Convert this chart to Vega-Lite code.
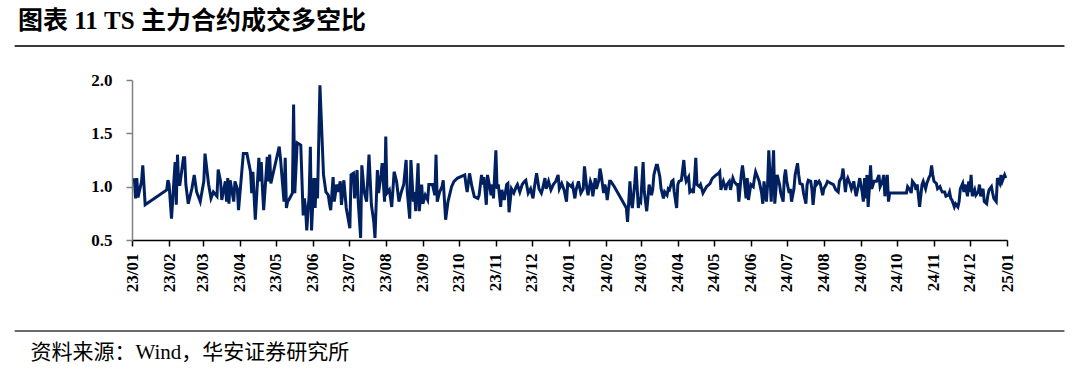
{
"$schema":"https://vega.github.io/schema/vega-lite/v6.json",
"width":875,"height":160,
"autosize":{"type":"none"},
"padding":{"left":132,"top":80,"right":73,"bottom":136},
"background":"white",
"config":{"view":{"stroke":null},"font":"Liberation Serif"},
"title":{"text":"图表 11 TS 主力合约成交多空比","anchor":"start","frame":"group","dx":-114,"dy":21,"offset":12,"baseline":"alphabetic","font":"Liberation Serif, Noto Sans CJK SC","fontSize":25,"fontWeight":"bold","color":"#000000"},
"datasets":{"ratio":[
{"d":"2023-01-03","v":1.08},{"d":"2023-01-04","v":0.89},{"d":"2023-01-05","v":1.08},{"d":"2023-01-06","v":0.9},{"d":"2023-01-09","v":1.05},{"d":"2023-01-10","v":1.2},{"d":"2023-01-12","v":0.83},{"d":"2023-01-30","v":0.97},{"d":"2023-01-31","v":1.06},
{"d":"2023-02-01","v":1.02},{"d":"2023-02-03","v":0.7},{"d":"2023-02-06","v":1.23},{"d":"2023-02-07","v":0.83},{"d":"2023-02-08","v":1.3},{"d":"2023-02-09","v":1.02},{"d":"2023-02-10","v":1.02},{"d":"2023-02-13","v":1.27},{"d":"2023-02-14","v":1.27},{"d":"2023-02-15","v":1.02},{"d":"2023-02-17","v":0.84},{"d":"2023-02-20","v":0.98},{"d":"2023-02-22","v":1.11},{"d":"2023-02-24","v":0.95},{"d":"2023-02-27","v":0.86},
{"d":"2023-03-02","v":1.05},{"d":"2023-03-03","v":1.31},{"d":"2023-03-06","v":1.02},{"d":"2023-03-08","v":0.89},{"d":"2023-03-10","v":0.95},{"d":"2023-03-13","v":0.91},{"d":"2023-03-14","v":1.16},{"d":"2023-03-16","v":1.05},{"d":"2023-03-17","v":0.875},{"d":"2023-03-20","v":1.05},{"d":"2023-03-21","v":0.86},{"d":"2023-03-22","v":1.08},{"d":"2023-03-23","v":0.84},{"d":"2023-03-24","v":1.06},{"d":"2023-03-27","v":0.86},{"d":"2023-03-28","v":1.05},{"d":"2023-03-30","v":0.98},{"d":"2023-03-31","v":0.78},
{"d":"2023-04-04","v":1.31},{"d":"2023-04-07","v":1.31},{"d":"2023-04-10","v":1.14},{"d":"2023-04-11","v":0.94},{"d":"2023-04-12","v":1.14},{"d":"2023-04-14","v":0.69},{"d":"2023-04-17","v":1.27},{"d":"2023-04-18","v":1.05},{"d":"2023-04-19","v":1.23},{"d":"2023-04-20","v":0.98},{"d":"2023-04-21","v":0.78},{"d":"2023-04-24","v":1.28},{"d":"2023-04-25","v":1.05},{"d":"2023-04-26","v":1.3},{"d":"2023-04-27","v":1.03},
{"d":"2023-05-04","v":1.375},{"d":"2023-05-05","v":1.27},{"d":"2023-05-08","v":0.86},{"d":"2023-05-09","v":1.27},{"d":"2023-05-10","v":0.8},{"d":"2023-05-11","v":0.86},{"d":"2023-05-12","v":0.875},{"d":"2023-05-15","v":0.94},{"d":"2023-05-16","v":1.77},{"d":"2023-05-17","v":0.94},{"d":"2023-05-18","v":1.17},{"d":"2023-05-19","v":1.41},{"d":"2023-05-22","v":1.39},{"d":"2023-05-24","v":0.73},{"d":"2023-05-25","v":0.89},{"d":"2023-05-26","v":0.8},{"d":"2023-05-27","v":0.59},{"d":"2023-05-29","v":0.92},{"d":"2023-05-30","v":1.375},{"d":"2023-05-31","v":0.59},
{"d":"2023-06-02","v":1.08},{"d":"2023-06-03","v":0.8},{"d":"2023-06-04","v":1.08},{"d":"2023-06-05","v":0.89},{"d":"2023-06-07","v":1.95},{"d":"2023-06-09","v":1.39},{"d":"2023-06-10","v":1.11},{"d":"2023-06-12","v":0.95},{"d":"2023-06-14","v":0.92},{"d":"2023-06-15","v":0.84},{"d":"2023-06-16","v":0.78},{"d":"2023-06-18","v":1.09},{"d":"2023-06-19","v":0.86},{"d":"2023-06-21","v":1.02},{"d":"2023-06-22","v":0.95},{"d":"2023-06-24","v":1.05},{"d":"2023-06-25","v":0.83},{"d":"2023-06-27","v":1.06},{"d":"2023-06-29","v":0.8},
{"d":"2023-07-02","v":0.61},{"d":"2023-07-03","v":1.11},{"d":"2023-07-05","v":1.125},{"d":"2023-07-06","v":0.89},{"d":"2023-07-08","v":1.156},{"d":"2023-07-09","v":0.86},{"d":"2023-07-11","v":0.52},{"d":"2023-07-12","v":1.2},{"d":"2023-07-14","v":0.95},{"d":"2023-07-16","v":0.86},{"d":"2023-07-18","v":1.3},{"d":"2023-07-20","v":0.83},{"d":"2023-07-22","v":0.67},{"d":"2023-07-23","v":0.52},{"d":"2023-07-25","v":1.156},{"d":"2023-07-26","v":0.94},{"d":"2023-07-28","v":1.11},{"d":"2023-07-29","v":1.22},{"d":"2023-07-31","v":0.86},
{"d":"2023-08-01","v":1.47},{"d":"2023-08-02","v":0.94},{"d":"2023-08-04","v":0.97},{"d":"2023-08-06","v":0.81},{"d":"2023-08-08","v":1.14},{"d":"2023-08-10","v":1.05},{"d":"2023-08-12","v":0.86},{"d":"2023-08-14","v":0.95},{"d":"2023-08-16","v":1.02},{"d":"2023-08-18","v":1.25},{"d":"2023-08-19","v":0.95},{"d":"2023-08-21","v":0.7},{"d":"2023-08-22","v":1.25},{"d":"2023-08-24","v":0.86},{"d":"2023-08-25","v":0.95},{"d":"2023-08-26","v":0.77},{"d":"2023-08-28","v":1.22},{"d":"2023-08-29","v":0.77},{"d":"2023-08-31","v":1.02},
{"d":"2023-09-01","v":0.84},{"d":"2023-09-03","v":0.92},{"d":"2023-09-05","v":0.875},{"d":"2023-09-06","v":1.02},{"d":"2023-09-09","v":1.02},{"d":"2023-09-11","v":0.92},{"d":"2023-09-12","v":1.3},{"d":"2023-09-13","v":0.86},{"d":"2023-09-15","v":0.95},{"d":"2023-09-17","v":1.0},{"d":"2023-09-18","v":1.06},{"d":"2023-09-20","v":0.69},{"d":"2023-09-22","v":0.86},{"d":"2023-09-25","v":1.0},{"d":"2023-09-27","v":1.05},{"d":"2023-09-30","v":1.08},
{"d":"2023-10-06","v":1.11},{"d":"2023-10-07","v":1.02},{"d":"2023-10-08","v":0.95},{"d":"2023-10-10","v":1.125},{"d":"2023-10-12","v":1.0},{"d":"2023-10-14","v":0.906},{"d":"2023-10-17","v":0.89},{"d":"2023-10-18","v":0.92},{"d":"2023-10-20","v":1.11},{"d":"2023-10-21","v":1.02},{"d":"2023-10-22","v":1.09},{"d":"2023-10-24","v":0.83},{"d":"2023-10-25","v":1.11},{"d":"2023-10-26","v":1.05},{"d":"2023-10-28","v":0.92},{"d":"2023-10-29","v":1.02},{"d":"2023-10-30","v":0.89},
{"d":"2023-11-01","v":1.34},{"d":"2023-11-02","v":0.98},{"d":"2023-11-03","v":1.02},{"d":"2023-11-05","v":0.81},{"d":"2023-11-06","v":0.97},{"d":"2023-11-08","v":0.875},{"d":"2023-11-10","v":1.02},{"d":"2023-11-11","v":1.03},{"d":"2023-11-12","v":0.76},{"d":"2023-11-14","v":0.98},{"d":"2023-11-16","v":0.94},{"d":"2023-11-18","v":1.0},{"d":"2023-11-19","v":1.02},{"d":"2023-11-21","v":0.95},{"d":"2023-11-23","v":1.02},{"d":"2023-11-25","v":1.05},{"d":"2023-11-26","v":1.06},{"d":"2023-11-28","v":0.94},{"d":"2023-11-30","v":0.98},
{"d":"2023-12-02","v":0.89},{"d":"2023-12-03","v":0.98},{"d":"2023-12-05","v":1.125},{"d":"2023-12-07","v":0.98},{"d":"2023-12-09","v":0.94},{"d":"2023-12-10","v":0.98},{"d":"2023-12-12","v":1.08},{"d":"2023-12-13","v":0.98},{"d":"2023-12-15","v":1.05},{"d":"2023-12-17","v":0.97},{"d":"2023-12-19","v":1.02},{"d":"2023-12-21","v":1.05},{"d":"2023-12-23","v":1.11},{"d":"2023-12-24","v":0.98},{"d":"2023-12-26","v":1.03},{"d":"2023-12-28","v":0.97},{"d":"2023-12-30","v":0.86},{"d":"2023-12-31","v":1.03},
{"d":"2024-01-03","v":1.0},{"d":"2024-01-04","v":1.02},{"d":"2024-01-06","v":0.89},{"d":"2024-01-07","v":0.97},{"d":"2024-01-09","v":1.05},{"d":"2024-01-11","v":0.94},{"d":"2024-01-13","v":0.98},{"d":"2024-01-14","v":1.19},{"d":"2024-01-16","v":0.98},{"d":"2024-01-17","v":0.92},{"d":"2024-01-19","v":1.05},{"d":"2024-01-20","v":1.02},{"d":"2024-01-21","v":0.91},{"d":"2024-01-23","v":1.08},{"d":"2024-01-24","v":0.98},{"d":"2024-01-26","v":1.06},{"d":"2024-01-27","v":1.17},{"d":"2024-01-28","v":1.11},{"d":"2024-01-30","v":0.94},{"d":"2024-01-31","v":1.02},
{"d":"2024-02-01","v":0.98},{"d":"2024-02-02","v":0.875},{"d":"2024-02-04","v":1.05},{"d":"2024-02-05","v":1.05},{"d":"2024-02-08","v":1.0},{"d":"2024-02-18","v":0.8},{"d":"2024-02-19","v":0.67},{"d":"2024-02-21","v":1.05},{"d":"2024-02-22","v":0.86},{"d":"2024-02-23","v":0.8},{"d":"2024-02-25","v":1.03},{"d":"2024-02-26","v":1.19},{"d":"2024-02-28","v":0.8},{"d":"2024-02-29","v":0.875},
{"d":"2024-03-01","v":0.86},{"d":"2024-03-03","v":1.23},{"d":"2024-03-04","v":0.95},{"d":"2024-03-06","v":0.77},{"d":"2024-03-07","v":0.89},{"d":"2024-03-08","v":1.02},{"d":"2024-03-10","v":0.92},{"d":"2024-03-11","v":0.97},{"d":"2024-03-12","v":1.11},{"d":"2024-03-14","v":1.2},{"d":"2024-03-15","v":1.2},{"d":"2024-03-17","v":1.09},{"d":"2024-03-18","v":0.98},{"d":"2024-03-20","v":0.89},{"d":"2024-03-21","v":0.95},{"d":"2024-03-23","v":0.92},{"d":"2024-03-24","v":0.98},{"d":"2024-03-25","v":0.97},{"d":"2024-03-27","v":1.05},{"d":"2024-03-28","v":1.06},{"d":"2024-03-29","v":0.95},{"d":"2024-03-31","v":0.8},
{"d":"2024-04-01","v":1.02},{"d":"2024-04-02","v":1.05},{"d":"2024-04-04","v":1.06},{"d":"2024-04-06","v":1.25},{"d":"2024-04-07","v":1.11},{"d":"2024-04-08","v":1.05},{"d":"2024-04-10","v":1.09},{"d":"2024-04-11","v":0.95},{"d":"2024-04-13","v":0.97},{"d":"2024-04-14","v":0.94},{"d":"2024-04-15","v":1.08},{"d":"2024-04-16","v":1.27},{"d":"2024-04-17","v":1.02},{"d":"2024-04-19","v":1.0},{"d":"2024-04-20","v":1.02},{"d":"2024-04-22","v":0.94},{"d":"2024-04-24","v":0.98},{"d":"2024-04-25","v":1.0},{"d":"2024-04-27","v":1.02},{"d":"2024-04-28","v":1.03},{"d":"2024-04-29","v":1.06},{"d":"2024-04-30","v":1.08},
{"d":"2024-05-03","v":1.11},{"d":"2024-05-05","v":1.125},{"d":"2024-05-06","v":1.14},{"d":"2024-05-07","v":0.97},{"d":"2024-05-08","v":1.02},{"d":"2024-05-09","v":1.05},{"d":"2024-05-11","v":0.97},{"d":"2024-05-12","v":1.02},{"d":"2024-05-14","v":1.05},{"d":"2024-05-15","v":0.97},{"d":"2024-05-17","v":1.08},{"d":"2024-05-18","v":1.05},{"d":"2024-05-20","v":1.02},{"d":"2024-05-21","v":1.02},{"d":"2024-05-22","v":0.86},{"d":"2024-05-24","v":1.11},{"d":"2024-05-25","v":1.2},{"d":"2024-05-26","v":1.11},{"d":"2024-05-28","v":0.89},{"d":"2024-05-29","v":1.08},{"d":"2024-05-30","v":0.875},
{"d":"2024-06-01","v":1.02},{"d":"2024-06-03","v":1.0},{"d":"2024-06-04","v":1.08},{"d":"2024-06-05","v":1.14},{"d":"2024-06-06","v":1.11},{"d":"2024-06-08","v":1.05},{"d":"2024-06-10","v":0.94},{"d":"2024-06-11","v":0.84},{"d":"2024-06-12","v":1.05},{"d":"2024-06-14","v":0.86},{"d":"2024-06-15","v":1.02},{"d":"2024-06-16","v":1.34},{"d":"2024-06-18","v":0.86},{"d":"2024-06-19","v":1.11},{"d":"2024-06-20","v":1.34},{"d":"2024-06-21","v":0.84},{"d":"2024-06-23","v":1.11},{"d":"2024-06-25","v":1.02},{"d":"2024-06-26","v":0.94},{"d":"2024-06-28","v":0.86},{"d":"2024-06-29","v":1.09},{"d":"2024-06-30","v":1.16},
{"d":"2024-07-01","v":1.05},{"d":"2024-07-03","v":0.94},{"d":"2024-07-04","v":0.98},{"d":"2024-07-05","v":0.86},{"d":"2024-07-07","v":0.98},{"d":"2024-07-08","v":1.11},{"d":"2024-07-10","v":1.22},{"d":"2024-07-11","v":1.11},{"d":"2024-07-12","v":1.03},{"d":"2024-07-14","v":1.02},{"d":"2024-07-15","v":0.94},{"d":"2024-07-17","v":0.84},{"d":"2024-07-18","v":1.02},{"d":"2024-07-19","v":1.06},{"d":"2024-07-21","v":1.05},{"d":"2024-07-22","v":0.98},{"d":"2024-07-23","v":0.83},{"d":"2024-07-25","v":1.06},{"d":"2024-07-26","v":1.02},{"d":"2024-07-28","v":1.05},{"d":"2024-07-29","v":1.03},{"d":"2024-07-31","v":0.92},
{"d":"2024-08-01","v":0.98},{"d":"2024-08-03","v":1.02},{"d":"2024-08-04","v":1.05},{"d":"2024-08-07","v":1.03},{"d":"2024-08-09","v":1.02},{"d":"2024-08-11","v":0.97},{"d":"2024-08-13","v":0.95},{"d":"2024-08-14","v":1.05},{"d":"2024-08-16","v":1.09},{"d":"2024-08-17","v":1.17},{"d":"2024-08-19","v":0.95},{"d":"2024-08-20","v":1.05},{"d":"2024-08-21","v":1.08},{"d":"2024-08-23","v":1.02},{"d":"2024-08-24","v":0.98},{"d":"2024-08-26","v":1.05},{"d":"2024-08-27","v":0.97},{"d":"2024-08-28","v":0.91},{"d":"2024-08-30","v":1.02},{"d":"2024-08-31","v":1.08},
{"d":"2024-09-02","v":0.95},{"d":"2024-09-03","v":0.86},{"d":"2024-09-04","v":1.08},{"d":"2024-09-05","v":0.89},{"d":"2024-09-06","v":1.11},{"d":"2024-09-07","v":0.81},{"d":"2024-09-08","v":0.98},{"d":"2024-09-09","v":1.2},{"d":"2024-09-10","v":0.98},{"d":"2024-09-12","v":1.05},{"d":"2024-09-13","v":1.05},{"d":"2024-09-14","v":1.05},{"d":"2024-09-16","v":1.11},{"d":"2024-09-17","v":1.0},{"d":"2024-09-19","v":1.05},{"d":"2024-09-20","v":1.11},{"d":"2024-09-21","v":0.91},{"d":"2024-09-23","v":1.11},{"d":"2024-09-24","v":0.86},{"d":"2024-09-25","v":0.94},
{"d":"2024-10-09","v":0.94},{"d":"2024-10-10","v":1.0},{"d":"2024-10-12","v":0.97},{"d":"2024-10-13","v":0.94},{"d":"2024-10-14","v":1.05},{"d":"2024-10-16","v":1.02},{"d":"2024-10-17","v":0.97},{"d":"2024-10-18","v":1.02},{"d":"2024-10-20","v":0.81},{"d":"2024-10-22","v":1.02},{"d":"2024-10-23","v":1.05},{"d":"2024-10-25","v":0.98},{"d":"2024-10-26","v":1.03},{"d":"2024-10-28","v":1.09},{"d":"2024-10-29","v":1.11},{"d":"2024-10-30","v":1.2},{"d":"2024-10-31","v":1.11},
{"d":"2024-11-01","v":1.05},{"d":"2024-11-03","v":1.03},{"d":"2024-11-04","v":0.98},{"d":"2024-11-06","v":1.0},{"d":"2024-11-07","v":0.97},{"d":"2024-11-08","v":0.95},{"d":"2024-11-10","v":0.95},{"d":"2024-11-11","v":0.91},{"d":"2024-11-13","v":0.92},{"d":"2024-11-14","v":0.95},{"d":"2024-11-15","v":0.89},{"d":"2024-11-16","v":0.875},{"d":"2024-11-18","v":0.81},{"d":"2024-11-19","v":0.84},{"d":"2024-11-21","v":0.81},{"d":"2024-11-22","v":0.86},{"d":"2024-11-23","v":0.98},{"d":"2024-11-25","v":1.03},{"d":"2024-11-26","v":0.95},{"d":"2024-11-27","v":1.02},{"d":"2024-11-29","v":0.91},{"d":"2024-11-30","v":1.05},
{"d":"2024-12-01","v":0.95},{"d":"2024-12-02","v":1.11},{"d":"2024-12-03","v":0.91},{"d":"2024-12-05","v":0.97},{"d":"2024-12-06","v":0.92},{"d":"2024-12-08","v":0.95},{"d":"2024-12-09","v":1.02},{"d":"2024-12-10","v":0.91},{"d":"2024-12-12","v":0.98},{"d":"2024-12-13","v":0.86},{"d":"2024-12-15","v":0.84},{"d":"2024-12-16","v":0.92},{"d":"2024-12-17","v":0.97},{"d":"2024-12-19","v":1.0},{"d":"2024-12-20","v":0.94},{"d":"2024-12-21","v":0.89},{"d":"2024-12-23","v":0.86},{"d":"2024-12-24","v":1.08},{"d":"2024-12-26","v":1.03},{"d":"2024-12-27","v":1.11},{"d":"2024-12-28","v":1.05},{"d":"2024-12-30","v":1.11},{"d":"2024-12-31","v":1.08}
]},
"layer":[
{"data":{"name":"ratio"},
 "mark":{"type":"line","color":"#002060","strokeWidth":3,"clip":false},
 "encoding":{
  "x":{"field":"d","type":"temporal",
   "scale":{"type":"utc","domain":[{"year":2023,"month":1,"date":1,"utc":true},{"year":2025,"month":1,"date":1,"utc":true}],"nice":false},
   "axis":{"format":"%y/%m","tickCount":{"interval":"month","step":1},"labelAngle":-90,"labelAlign":"right","labelBaseline":"middle","labelPadding":7,"labelOverlap":false,"labelFont":"Liberation Serif","labelFontSize":17,"labelFontWeight":"bold","labelColor":"#000000","domainColor":"#000000","domainWidth":1.5,"tickColor":"#000000","tickSize":6,"tickWidth":1.5,"grid":false,
    "values":[{"year":2023,"month":1,"date":1,"utc":true},{"year":2023,"month":2,"date":1,"utc":true},{"year":2023,"month":3,"date":1,"utc":true},{"year":2023,"month":4,"date":1,"utc":true},{"year":2023,"month":5,"date":1,"utc":true},{"year":2023,"month":6,"date":1,"utc":true},{"year":2023,"month":7,"date":1,"utc":true},{"year":2023,"month":8,"date":1,"utc":true},{"year":2023,"month":9,"date":1,"utc":true},{"year":2023,"month":10,"date":1,"utc":true},{"year":2023,"month":11,"date":1,"utc":true},{"year":2023,"month":12,"date":1,"utc":true},{"year":2024,"month":1,"date":1,"utc":true},{"year":2024,"month":2,"date":1,"utc":true},{"year":2024,"month":3,"date":1,"utc":true},{"year":2024,"month":4,"date":1,"utc":true},{"year":2024,"month":5,"date":1,"utc":true},{"year":2024,"month":6,"date":1,"utc":true},{"year":2024,"month":7,"date":1,"utc":true},{"year":2024,"month":8,"date":1,"utc":true},{"year":2024,"month":9,"date":1,"utc":true},{"year":2024,"month":10,"date":1,"utc":true},{"year":2024,"month":11,"date":1,"utc":true},{"year":2024,"month":12,"date":1,"utc":true},{"year":2025,"month":1,"date":1,"utc":true}],
    "title":"资料来源：Wind，华安证券研究所","titleFont":"Liberation Serif, Noto Sans CJK SC","titleFontSize":21,"titleFontWeight":"normal","titleColor":"#000000","titleAnchor":"start","titleAlign":"left","titleBaseline":"middle","titleX":-102,"titleY":112}},
  "y":{"field":"v","type":"quantitative",
   "scale":{"domain":[0.5,2.0],"nice":false,"zero":false},
   "axis":{"values":[0.5,1.0,1.5,2.0],"format":".1f","title":null,"grid":false,"labelFont":"Liberation Serif","labelFontSize":17,"labelFontWeight":"bold","labelColor":"#000000","labelPadding":14,"domainColor":"#808080","domainWidth":1.5,"tickColor":"#808080","tickSize":6,"tickWidth":1.5}}
 }},
{"data":{"values":[{}]},
 "mark":{"type":"rule","color":"#3a3a3a","strokeWidth":2,"clip":false},
 "encoding":{
  "x":{"datum":{"year":2022,"month":9,"date":25,"utc":true},"type":"temporal"},
  "x2":{"datum":{"year":2025,"month":2,"date":18,"utc":true}},
  "y":{"datum":2.319,"type":"quantitative"}}},
{"data":{"values":[{}]},
 "mark":{"type":"rule","color":"#3a3a3a","strokeWidth":1.5,"clip":false},
 "encoding":{
  "x":{"datum":{"year":2022,"month":9,"date":25,"utc":true},"type":"temporal"},
  "x2":{"datum":{"year":2025,"month":2,"date":18,"utc":true}},
  "y":{"datum":-0.353,"type":"quantitative"}}}
]
}
